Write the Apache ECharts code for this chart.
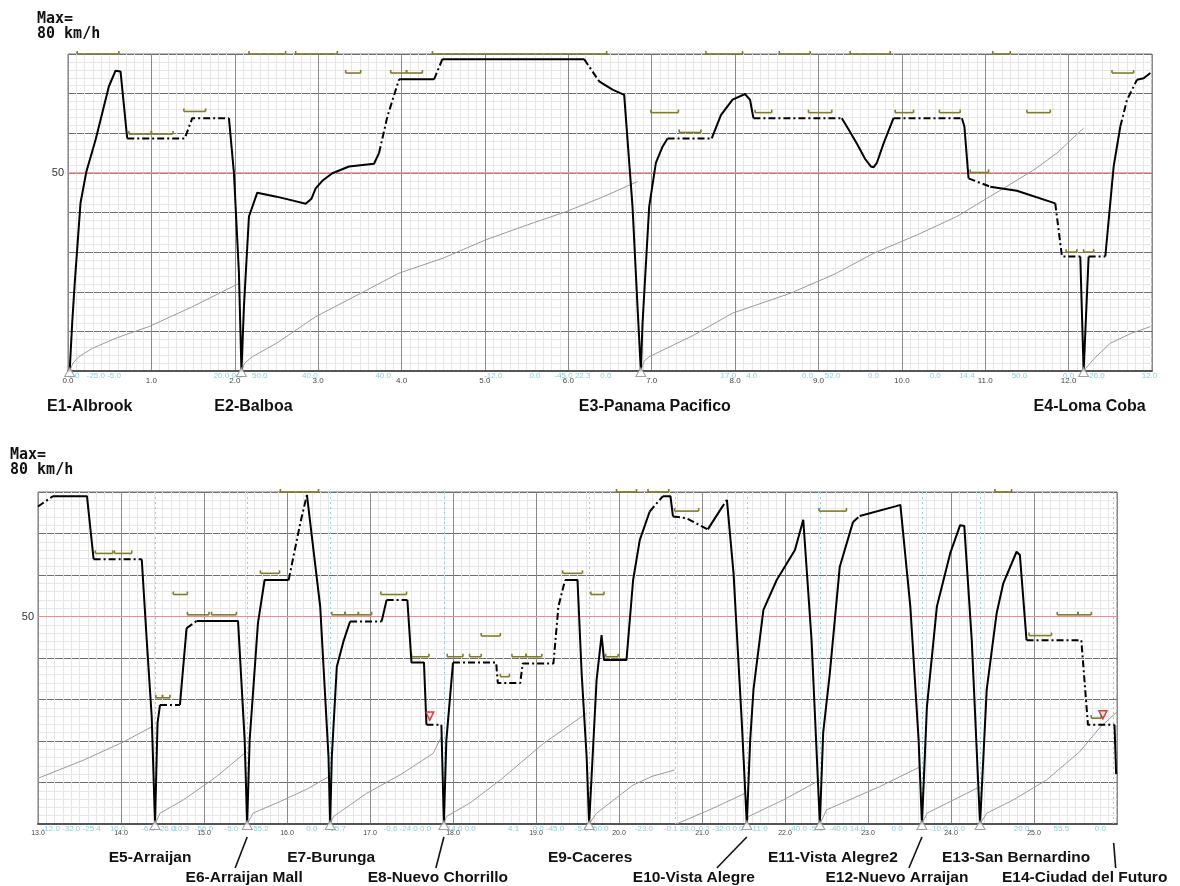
<!DOCTYPE html>
<html><head><meta charset="utf-8">
<script src="https://cdn.jsdelivr.net/npm/echarts@6/dist/echarts.min.js"></script>
<style>html,body{margin:0;padding:0;background:#fff}#c{width:1180px;height:886px}</style>
</head><body><div id="c"></div>
<script>
// ---------------- DATA ----------------
// speed profile [km, km/h]
const topSpeed = [[0.02,0],[0.05,12],[0.08,22],[0.15,42.4],[0.22,50.3],[0.33,58.3],[0.49,71.8],[0.57,75.8],[0.63,75.6],[0.71,58.7],[1.40,58.7],[1.49,63.8],[1.93,63.8],[1.99,50],[2.05,24.7],[2.08,0],[2.11,16.2],[2.17,39],[2.27,45],[2.5,44],[2.7,43],[2.85,42.2],[2.92,43.5],[2.97,46.1],[3.05,48],[3.17,49.9],[3.37,51.6],[3.67,52.3],[3.73,55],[3.83,64.2],[3.97,73.6],[4.39,73.6],[4.49,78.7],[6.19,78.7],[6.37,73.1],[6.53,71],[6.67,69.7],[6.77,41.5],[6.83,16.2],[6.87,0],[6.89,12],[6.97,41.5],[7.05,52.5],[7.13,56.6],[7.19,58.7],[7.72,58.7],[7.83,64.6],[7.97,68.5],[8.12,69.9],[8.18,68.4],[8.22,63.8],[9.28,63.8],[9.36,61],[9.46,57.4],[9.56,53.5],[9.63,51.6],[9.66,51.4],[9.70,52.5],[9.78,57.4],[9.90,63.8],[10.72,63.8],[10.75,61.7],[10.80,48.6],[11.06,46.5],[11.38,45.5],[11.84,42.3],[11.92,28.9],[12.14,28.9],[12.18,0],[12.24,28.9],[12.44,28.9],[12.54,51.6],[12.62,61.7],[12.70,68.4],[12.82,73.5],[12.90,73.9],[12.98,75.2]];
const topDashRanges = [[0.71,1.93],[3.73,3.97],[4.39,4.49],[6.19,6.37],[7.19,7.72],[8.22,9.28],[9.90,10.72],[10.80,11.06],[11.84,12.14],[12.24,12.44],[12.62,12.82]];
const botSpeed = [[13.0,76.5],[13.18,79],[13.59,79],[13.67,63.8],[14.25,63.8],[14.31,44.3],[14.37,25.9],[14.41,0],[14.44,24.3],[14.47,28.7],[14.71,28.7],[14.79,47.2],[14.91,48.9],[15.41,48.9],[15.49,20.2],[15.52,0],[15.55,20.2],[15.65,48.4],[15.73,58.8],[16.02,58.8],[16.16,72.5],[16.24,79.3],[16.40,52.4],[16.50,16.2],[16.52,0],[16.54,16.2],[16.60,37.9],[16.68,44],[16.76,48.8],[17.14,48.8],[17.20,54],[17.45,54],[17.50,38.9],[17.65,38.9],[17.68,23.9],[17.86,23.9],[17.89,0],[17.92,20.2],[18.00,38.9],[18.52,38.9],[18.54,34],[18.81,34],[18.84,38.7],[19.21,38.7],[19.27,52.4],[19.35,58.8],[19.50,58.8],[19.55,36.3],[19.61,16.2],[19.64,0],[19.73,34.7],[19.79,45.5],[19.82,39.5],[20.09,39.5],[20.17,58.8],[20.25,68.4],[20.37,75.3],[20.53,79],[20.62,79],[20.65,74.1],[20.81,73.7],[21.07,71],[21.22,75.7],[21.30,78.1],[21.38,60.4],[21.48,24.3],[21.54,0],[21.58,20],[21.62,32.3],[21.74,51.6],[21.90,58.8],[22.12,66],[22.22,73.3],[22.32,44.3],[22.42,0],[22.46,22],[22.54,36.3],[22.66,62],[22.82,72.8],[22.90,74.2],[23.34,76.6],[23.39,76.9],[23.51,52.4],[23.61,20.2],[23.65,0],[23.71,28.3],[23.83,52.4],[23.99,65.2],[24.11,72],[24.16,71.8],[24.25,44.3],[24.35,0],[24.43,32.3],[24.55,50.8],[24.63,58],[24.79,65.6],[24.83,64.8],[24.91,44.3],[25.57,44.3],[25.65,23.9],[25.97,23.9],[25.99,12]];
const botDashRanges = [[13.0,13.18],[13.67,14.25],[14.47,14.71],[14.79,14.91],[16.02,16.24],[16.76,17.14],[17.20,17.45],[17.68,17.86],[18.00,19.35],[20.37,20.53],[20.65,21.07],[21.22,21.30],[22.82,22.90],[24.91,25.97]];
// running time curve segments [km, value]
const topTime = [
 [[0.02,0],[0.06,2],[0.13,3.6],[0.29,5.7],[0.6,8.5],[0.97,11.2],[1.49,16.2],[2.05,22.1]],
 [[2.08,0],[2.12,2],[2.21,3.6],[2.5,7],[2.97,13.7],[3.5,19.5],[3.97,24.7],[4.5,28.5],[5.01,33.1],[5.5,36.8],[5.97,40.2],[6.4,43.8],[6.83,47.8]],
 [[6.87,0],[6.91,2.5],[6.97,3.6],[7.5,9],[7.97,14.6],[8.66,19.6],[9.2,24.5],[9.66,29.7],[10.2,34.5],[10.66,39],[11.22,46.1],[11.6,51],[11.86,55],[12.18,61.3]],
 [[12.18,0],[12.3,3],[12.5,7],[12.75,9.5],[12.98,11.2]]
];
const botTime = [
 [[13.0,11],[13.55,15.4],[14.03,19.8],[14.37,23.4]],
 [[14.41,0],[14.47,2.6],[14.75,5.8],[15.15,11.4],[15.51,17.4]],
 [[15.52,0],[15.59,2.6],[15.96,5.8],[16.25,8.5],[16.50,11.4]],
 [[16.52,0],[16.56,1.8],[16.96,7.4],[17.36,11.8],[17.76,17],[17.86,21]],
 [[17.89,0],[17.92,1.8],[18.2,5],[18.57,10.6],[19.09,19.4],[19.61,26.7]],
 [[19.64,0],[19.73,2.6],[20.17,9.4],[20.4,11.5],[20.67,13]],
 [[20.69,0],[21.1,3.5],[21.52,7.4]],
 [[21.54,0],[21.56,1.8],[21.98,5.8],[22.42,10.6]],
 [[22.42,0],[22.50,3.4],[23.14,9],[23.63,13.8]],
 [[23.65,0],[23.71,2.6],[24.19,7.4],[24.35,9]],
 [[24.35,0],[24.43,2.6],[24.75,5.8],[25.15,10.6],[25.55,17.4],[25.80,23.4],[26.0,27]]
];
// speed limit markers [fromKm, toKm, km/h]
const topLimits = [[0.73,1.00,59.8],[1.00,1.26,59.8],[1.39,1.65,65.5],[3.33,3.51,75.2],[3.87,4.06,75.2],[4.06,4.25,75.2],[6.99,7.32,65.2],[7.33,7.59,60.2],[8.24,8.44,65.2],[8.88,9.16,65.2],[9.92,10.14,65.2],[10.45,10.70,65.2],[11.50,11.78,65.2],[10.82,11.04,50.1],[11.97,12.10,30],[12.18,12.30,30],[12.52,12.78,75.2],[0.11,0.61,80],[2.17,2.61,80],[2.73,3.23,80],[4.37,6.46,80],[7.65,8.09,80],[8.53,8.90,80],[9.38,9.86,80],[11.09,11.30,80]];
const botLimits = [[13.69,13.90,65.2],[13.92,14.13,65.2],[14.42,14.50,30.4],[14.50,14.59,30.4],[14.63,14.80,55.3],[14.80,15.06,50.4],[15.09,15.39,50.4],[15.68,15.91,60.4],[16.54,16.70,50.4],[16.70,16.86,50.4],[16.86,17.02,50.4],[17.13,17.44,55.3],[17.50,17.71,40.3],[17.93,18.12,40.3],[18.20,18.34,40.3],[18.34,18.57,45.3],[18.57,18.68,35.5],[18.71,18.88,40.3],[18.88,19.07,40.3],[19.32,19.56,60.4],[19.66,19.82,55.3],[19.84,19.99,40.3],[20.67,20.96,75.4],[22.41,22.74,75.4],[24.94,25.21,45.4],[25.28,25.53,50.4],[25.53,25.69,50.4],[25.69,25.81,25.5],[15.92,16.38,80],[19.97,20.21,80],[20.35,20.60,80],[24.53,24.73,80]];
const botWarnings = [[17.72,26],[25.83,26.3]];
// stations [km, name]
const topStations = [[0.02,'E1-Albrook'],[2.08,'E2-Balboa'],[6.87,'E3-Panama Pacifico'],[12.18,'E4-Loma Coba']];
const botStations = [[14.41,'E5-Arraijan'],[15.52,'E6-Arraijan Mall'],[16.52,'E7-Burunga'],[17.89,'E8-Nuevo Chorrillo'],[19.64,'E9-Caceres'],[21.54,'E10-Vista Alegre'],[22.42,'E11-Vista Alegre2'],[23.65,'E12-Nuevo Arraijan'],[24.35,'E13-San Bernardino'],[25.96,'E14-Ciudad del Futuro']];
const botExtraGuides = [20.68];
// gradient annotations [km, text]
const topGrad = [[0.07,'0.0'],[0.43,'-25.0 -5.0'],[1.92,'20.0 0.0'],[2.3,'50.0'],[2.9,'40.0'],[3.78,'40.0'],[5.1,'-12.0'],[5.6,'0.0'],[6.05,'-45.0 22.3'],[6.45,'0.0'],[7.92,'17.0'],[8.2,'4.0'],[8.87,'0.0'],[9.17,'52.0'],[9.66,'0.0'],[10.40,'0.0'],[10.78,'14.4'],[11.41,'50.0'],[12.0,'0.0'],[12.34,'26.0'],[12.97,'12.0']];
const botGrad = [[13.4,'-12.0 -32.0 -25.4'],[13.96,'10.0'],[14.45,'-6.0 -26.0'],[14.71,'-10.3'],[15.0,'-56.0'],[15.33,'-5.0'],[15.67,'-55.2'],[16.3,'0.0'],[16.6,'-15.7'],[17.45,'-0.6 -24.0 0.0'],[18.1,'14.0 0.0'],[18.73,'4.1'],[19.15,'0.0 -45.0'],[19.55,'-5.0'],[19.78,'50.0'],[20.3,'-23.0'],[20.73,'-0.1 28.0'],[21.23,'0.2 -32.0 0.0'],[21.7,'11.0'],[22.25,'-40.0 -5.0'],[22.75,'-40.0 14.0'],[23.35,'0.0'],[23.85,'-10.0'],[24.1,'0.0'],[24.85,'20.0'],[25.33,'55.5'],[25.8,'0.0']];
const maxText = 'Max=\n80 km/h';
const yShownLabel = 50;
const refSpeed = 50;
const topRange = [0,13];
const botRange = [13,26];

// ---------------- LAYOUT / STYLE ----------------
const topLabelShift = [20,12,14,6];
const botLabelShift = [-5,-3,1,-6,1,-53,13,-25,36,-29];
const botLeaderDx = [0,-12,0,-8,0,-30,0,-13,0,2];

const chart = echarts.init(document.getElementById('c'), null, {renderer:'canvas'});

function splitRuns(points, ranges){
  const inR=(a,b)=>{const m=(a+b)/2;return ranges.some(r=>m>=r[0]-1e-6&&m<=r[1]+1e-6);};
  const runs=[];let cur=null;
  for(let i=0;i<points.length-1;i++){
    const d=inR(points[i][0],points[i+1][0]);
    if(!cur||cur.d!==d){cur={d:d,pts:[points[i]]};runs.push(cur);}
    cur.pts.push(points[i+1]);
  }
  return runs;
}
function xAx(g,rng,fs){
  return {type:'value',gridIndex:g,min:rng[0],max:rng[1],interval:1,
    axisLine:{show:true,lineStyle:{color:'#555',width:2}},axisTick:{show:false},
    axisLabel:{formatter:v=>v.toFixed(1),fontSize:fs,color:'#444',margin:6,showMaxLabel:false,fontFamily:'Liberation Sans'},
    splitLine:{show:true,lineStyle:{color:'#8a8a8a',width:1}},
    minorTick:{show:false,splitNumber:10},
    minorSplitLine:{show:true,lineStyle:{color:'#e6e6e6',width:1}}};
}
function yAx(g){
  return {type:'value',gridIndex:g,min:0,max:80,interval:10,
    axisLine:{show:false},axisTick:{show:false},
    axisLabel:{formatter:v=>v===yShownLabel?String(v):'',fontSize:11,color:'#333',margin:4,fontFamily:'Liberation Sans'},
    splitLine:{show:true,lineStyle:{color:'#6e6e6e',width:1}},
    minorTick:{show:false,splitNumber:5},
    minorSplitLine:{show:true,lineStyle:{color:'#e6e6e6',width:1}}};
}
const series=[];
function addChart(g,rng,speed,dash,time,limits,stations,grad){
  // red reference line
  series.push({type:'line',xAxisIndex:g,yAxisIndex:g,data:[[rng[0],refSpeed],[rng[1],refSpeed]],symbol:'none',silent:true,z:3,
    lineStyle:{color:'#f08c8c',width:1.2}});
  splitRuns(speed,dash).forEach(r=>{
    series.push({type:'line',xAxisIndex:g,yAxisIndex:g,data:r.pts,symbol:'none',silent:true,z:6,
      lineStyle:{color:'#000',width:2,type:r.d?[7,3,2,3]:'solid'}});
  });
  time.forEach(seg=>{
    series.push({type:'line',xAxisIndex:g,yAxisIndex:g,data:seg,symbol:'none',silent:true,z:4,
      lineStyle:{color:'#9a9a9a',width:1}});
  });
  series.push({type:'custom',xAxisIndex:g,yAxisIndex:g,data:limits,encode:{x:[0,1],y:2},z:5,silent:true,clip:false,
    renderItem:(p,api)=>{
      const a=api.coord([api.value(0),api.value(2)]),b=api.coord([api.value(1),api.value(2)]);
      const st={stroke:'#7d7d2a',lineWidth:1.6,fill:null};
      return {type:'group',children:[
        {type:'line',shape:{x1:a[0],y1:a[1],x2:b[0],y2:b[1]},style:st},
        {type:'line',shape:{x1:a[0],y1:a[1],x2:a[0],y2:a[1]-3},style:st},
        {type:'line',shape:{x1:b[0],y1:b[1],x2:b[0],y2:b[1]-3},style:st}]};
    }});
  // gradient text
  series.push({type:'scatter',xAxisIndex:g,yAxisIndex:g,data:grad.map(d=>[d[0],0,d[1]]),symbolSize:0,silent:true,clip:false,z:7,
    label:{show:true,position:'bottom',distance:1,formatter:p=>p.data[2],fontSize:8,color:'#6cc4c4',fontFamily:'Liberation Sans'}});
  // station triangles
  series.push({type:'scatter',xAxisIndex:g,yAxisIndex:g,data:stations.filter(s=>s[0]<25.9).map(s=>[s[0],0]),
    symbol:'triangle',symbolSize:[10,9],symbolOffset:[0,1],clip:false,silent:true,z:8,
    itemStyle:{color:'#fff',borderColor:'#888',borderWidth:1}});
}
addChart(0,topRange,topSpeed,topDashRanges,topTime,topLimits,topStations,topGrad);
addChart(1,botRange,botSpeed,botDashRanges,botTime,botLimits,botStations,botGrad);
series.push({type:'scatter',xAxisIndex:1,yAxisIndex:1,data:botWarnings,symbol:'triangle',symbolRotate:180,symbolSize:8,silent:true,z:9,
  itemStyle:{color:'#fde0e0',borderColor:'#d01010',borderWidth:1.5}});
series.push({type:'line',xAxisIndex:1,yAxisIndex:1,data:[],silent:true,z:3,
  markLine:{silent:true,symbol:'none',label:{show:false},lineStyle:{color:'#8fd3dc',type:[2,3],width:1},
    data:botStations.map(s=>({xAxis:s[0]})).concat(botExtraGuides.map(k=>({xAxis:k}))),animation:false}});

chart.setOption({
  animation:false,backgroundColor:'#fff',
  grid:[{left:68,top:54,width:1084,height:317,show:true,borderColor:'#777',borderWidth:1,backgroundColor:'#fff'},
        {left:38,top:492,width:1079,height:332,show:true,borderColor:'#777',borderWidth:1,backgroundColor:'#fff'}],
  xAxis:[xAx(0,topRange,8),xAx(1,botRange,7)],
  yAxis:[yAx(0),yAx(1)],
  series:series
});

const gfx=[];
const mono='bold 15px "DejaVu Sans Mono"';
gfx.push({type:'text',x:37,y:12,style:{text:maxText,font:mono,fill:'#111',lineHeight:15}});
gfx.push({type:'text',x:10,y:448,style:{text:maxText,font:mono,fill:'#111',lineHeight:15}});
const lf='bold 16px "Liberation Sans"';
topStations.forEach((s,i)=>{
  const p=chart.convertToPixel({gridIndex:0},[s[0],0]);
  gfx.push({type:'text',x:p[0]+topLabelShift[i],y:407,style:{text:s[1],font:lf,fill:'#111',align:'center',verticalAlign:'middle',textAlign:'center',textVerticalAlign:'middle'}});
});
botStations.forEach((s,i)=>{
  const p=chart.convertToPixel({gridIndex:1},[s[0],0]);
  const row=i%2;
  gfx.push({type:'text',x:p[0]+botLabelShift[i],y:row?878:858,style:{text:s[1],font:'bold 15.5px "Liberation Sans"',fill:'#111',align:'center',verticalAlign:'middle',textAlign:'center',textVerticalAlign:'middle'}});
  if(row){
    gfx.push({type:'line',shape:{x1:p[0],y1:i===9?843:837,x2:p[0]+botLeaderDx[i],y2:868},style:{stroke:'#111',lineWidth:1.6}});
  }
});
chart.setOption({graphic:gfx});
</script></body></html>
